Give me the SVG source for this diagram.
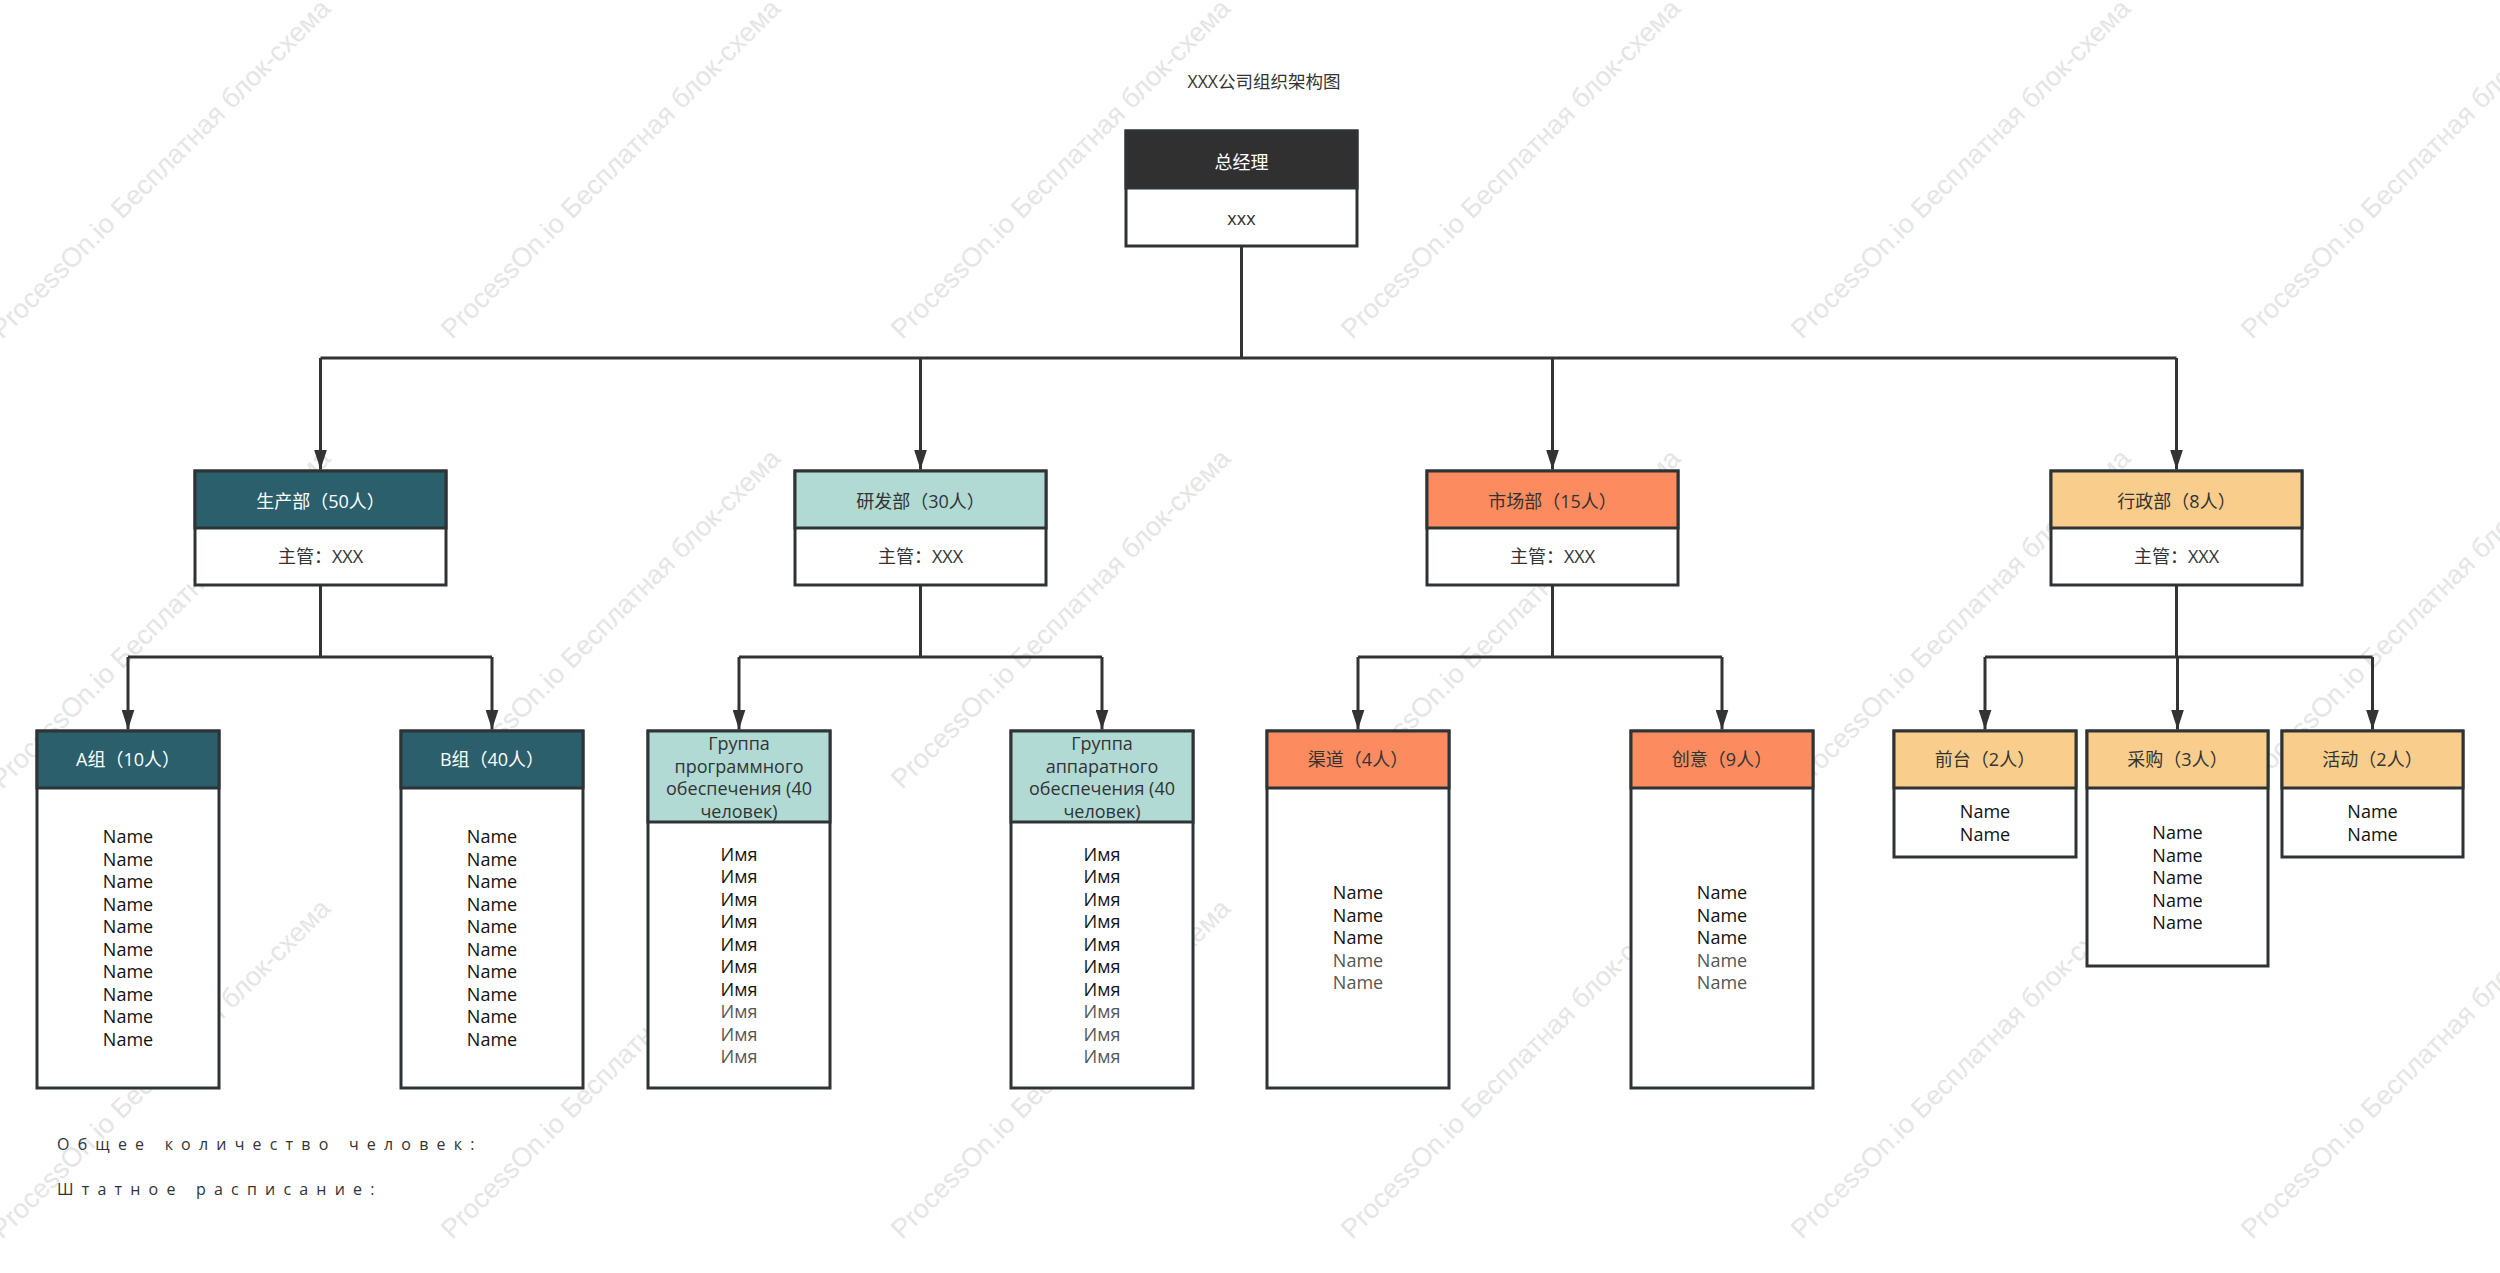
<svg xmlns="http://www.w3.org/2000/svg" width="2500" height="1273" viewBox="0 0 2500 1273">
<defs>
<style>
text{font-family:"Open Sans","Noto Sans CJK SC",sans-serif;font-size:18px;text-anchor:middle}
.wm{font-family:"Liberation Sans","Noto Sans",sans-serif;font-size:27px;fill:#e5e5e5;text-anchor:start}
.box{stroke:#2e3336;stroke-width:3}
.body{fill:#fff}
.hdk{fill:#303030}
.hteal{fill:#2a5f6b}
.hmint{fill:#b0dad3}
.horange{fill:#fc8c5f}
.hyellow{fill:#f9ce8c}
.tw{fill:#ffffff}
.td{fill:#333333}
.nm{fill:#111111}
.nm2{fill:#555555}
.title{font-size:17.5px;fill:#333333}
.foot{font-size:16px;fill:#333333;text-anchor:start;letter-spacing:8.2px}
.conn{fill:none;stroke:#333333;stroke-width:3}
</style>
<marker id="arrow" viewBox="0 0 20 13" refX="20" refY="6.5" markerWidth="20" markerHeight="13" markerUnits="userSpaceOnUse" orient="auto">
<path d="M0,0 L20,6.5 L0,13 z" fill="#333333"/>
</marker>
</defs>
<rect x="0" y="0" width="2500" height="1273" fill="#ffffff"/>
<g id="watermark">
<text class="wm" transform="translate(2,340) rotate(-45)">ProcessOn.io Бесплатная блок-схема</text>
<text class="wm" transform="translate(452,340) rotate(-45)">ProcessOn.io Бесплатная блок-схема</text>
<text class="wm" transform="translate(902,340) rotate(-45)">ProcessOn.io Бесплатная блок-схема</text>
<text class="wm" transform="translate(1352,340) rotate(-45)">ProcessOn.io Бесплатная блок-схема</text>
<text class="wm" transform="translate(1802,340) rotate(-45)">ProcessOn.io Бесплатная блок-схема</text>
<text class="wm" transform="translate(2252,340) rotate(-45)">ProcessOn.io Бесплатная блок-схема</text>
<text class="wm" transform="translate(2,790) rotate(-45)">ProcessOn.io Бесплатная блок-схема</text>
<text class="wm" transform="translate(452,790) rotate(-45)">ProcessOn.io Бесплатная блок-схема</text>
<text class="wm" transform="translate(902,790) rotate(-45)">ProcessOn.io Бесплатная блок-схема</text>
<text class="wm" transform="translate(1352,790) rotate(-45)">ProcessOn.io Бесплатная блок-схема</text>
<text class="wm" transform="translate(1802,790) rotate(-45)">ProcessOn.io Бесплатная блок-схема</text>
<text class="wm" transform="translate(2252,790) rotate(-45)">ProcessOn.io Бесплатная блок-схема</text>
<text class="wm" transform="translate(2,1240) rotate(-45)">ProcessOn.io Бесплатная блок-схема</text>
<text class="wm" transform="translate(452,1240) rotate(-45)">ProcessOn.io Бесплатная блок-схема</text>
<text class="wm" transform="translate(902,1240) rotate(-45)">ProcessOn.io Бесплатная блок-схема</text>
<text class="wm" transform="translate(1352,1240) rotate(-45)">ProcessOn.io Бесплатная блок-схема</text>
<text class="wm" transform="translate(1802,1240) rotate(-45)">ProcessOn.io Бесплатная блок-схема</text>
<text class="wm" transform="translate(2252,1240) rotate(-45)">ProcessOn.io Бесплатная блок-схема</text>
</g>

<text class="title" x="1264" y="88">XXX公司组织架构图</text>

<g id="connectors">
<path class="conn" d="M1241.5 246 V358"/>
<path class="conn" d="M320.5 358 H2176.5"/>
<path class="conn" d="M320.5 358 V469.5" marker-end="url(#arrow)"/>
<path class="conn" d="M920.5 358 V469.5" marker-end="url(#arrow)"/>
<path class="conn" d="M1552.5 358 V469.5" marker-end="url(#arrow)"/>
<path class="conn" d="M2176.5 358 V469.5" marker-end="url(#arrow)"/>

<path class="conn" d="M320.5 585 V657"/>
<path class="conn" d="M128 657 H492"/>
<path class="conn" d="M128 657 V729.5" marker-end="url(#arrow)"/>
<path class="conn" d="M492 657 V729.5" marker-end="url(#arrow)"/>

<path class="conn" d="M920.5 585 V657"/>
<path class="conn" d="M739 657 H1102"/>
<path class="conn" d="M739 657 V729.5" marker-end="url(#arrow)"/>
<path class="conn" d="M1102 657 V729.5" marker-end="url(#arrow)"/>

<path class="conn" d="M1552.5 585 V657"/>
<path class="conn" d="M1358 657 H1722"/>
<path class="conn" d="M1358 657 V729.5" marker-end="url(#arrow)"/>
<path class="conn" d="M1722 657 V729.5" marker-end="url(#arrow)"/>

<path class="conn" d="M2176.5 585 V657"/>
<path class="conn" d="M1985 657 H2372.5"/>
<path class="conn" d="M1985 657 V729.5" marker-end="url(#arrow)"/>
<path class="conn" d="M2177.5 657 V729.5" marker-end="url(#arrow)"/>
<path class="conn" d="M2372.5 657 V729.5" marker-end="url(#arrow)"/>
</g>

<g id="node-ceo">
<rect class="box body" x="1126" y="131" width="231" height="115"/>
<rect class="box hdk" x="1126" y="131" width="231" height="57"/>
<text class="tw" x="1241.5" y="169">总经理</text>
<text class="td" x="1241.5" y="225">xxx</text>
</g>

<g id="node-production">
<rect class="box body" x="195" y="471" width="251" height="114"/>
<rect class="box hteal" x="195" y="471" width="251" height="57"/>
<text class="tw" x="320.5" y="508">生产部（50人）</text>
<text class="td" x="320.5" y="563">主管：XXX</text>
</g>

<g id="node-rd">
<rect class="box body" x="795" y="471" width="251" height="114"/>
<rect class="box hmint" x="795" y="471" width="251" height="57"/>
<text class="td" x="920.5" y="508">研发部（30人）</text>
<text class="td" x="920.5" y="563">主管：XXX</text>
</g>

<g id="node-marketing">
<rect class="box body" x="1427" y="471" width="251" height="114"/>
<rect class="box horange" x="1427" y="471" width="251" height="57"/>
<text class="td" x="1552.5" y="508">市场部（15人）</text>
<text class="td" x="1552.5" y="563">主管：XXX</text>
</g>

<g id="node-admin">
<rect class="box body" x="2051" y="471" width="251" height="114"/>
<rect class="box hyellow" x="2051" y="471" width="251" height="57"/>
<text class="td" x="2176.5" y="508">行政部（8人）</text>
<text class="td" x="2176.5" y="563">主管：XXX</text>
</g>

<g id="node-group-a">
<rect class="box body" x="37" y="731" width="182" height="357"/>
<rect class="box hteal" x="37" y="731" width="182" height="57"/>
<text class="tw" x="128" y="766">A组（10人）</text>
<text class="nm" x="128" y="843">Name</text>
<text class="nm" x="128" y="865.5">Name</text>
<text class="nm" x="128" y="888">Name</text>
<text class="nm" x="128" y="910.5">Name</text>
<text class="nm" x="128" y="933">Name</text>
<text class="nm" x="128" y="955.5">Name</text>
<text class="nm" x="128" y="978">Name</text>
<text class="nm" x="128" y="1000.5">Name</text>
<text class="nm" x="128" y="1023">Name</text>
<text class="nm" x="128" y="1045.5">Name</text>
</g>

<g id="node-group-b">
<rect class="box body" x="401" y="731" width="182" height="357"/>
<rect class="box hteal" x="401" y="731" width="182" height="57"/>
<text class="tw" x="492" y="766">B组（40人）</text>
<text class="nm" x="492" y="843">Name</text>
<text class="nm" x="492" y="865.5">Name</text>
<text class="nm" x="492" y="888">Name</text>
<text class="nm" x="492" y="910.5">Name</text>
<text class="nm" x="492" y="933">Name</text>
<text class="nm" x="492" y="955.5">Name</text>
<text class="nm" x="492" y="978">Name</text>
<text class="nm" x="492" y="1000.5">Name</text>
<text class="nm" x="492" y="1023">Name</text>
<text class="nm" x="492" y="1045.5">Name</text>
</g>

<g id="node-software">
<rect class="box body" x="648" y="731" width="182" height="357"/>
<rect class="box hmint" x="648" y="731" width="182" height="91"/>
<text class="td" x="739" y="750">Группа</text>
<text class="td" x="739" y="772.5">программного</text>
<text class="td" x="739" y="795">обеспечения (40</text>
<text class="td" x="739" y="817.5">человек)</text>
<text class="nm" x="739" y="860.5">Имя</text>
<text class="nm" x="739" y="883">Имя</text>
<text class="nm" x="739" y="905.5">Имя</text>
<text class="nm" x="739" y="928">Имя</text>
<text class="nm" x="739" y="950.5">Имя</text>
<text class="nm" x="739" y="973">Имя</text>
<text class="nm" x="739" y="995.5">Имя</text>
<text class="nm2" x="739" y="1018">Имя</text>
<text class="nm2" x="739" y="1040.5">Имя</text>
<text class="nm2" x="739" y="1063">Имя</text>
</g>

<g id="node-hardware">
<rect class="box body" x="1011" y="731" width="182" height="357"/>
<rect class="box hmint" x="1011" y="731" width="182" height="91"/>
<text class="td" x="1102" y="750">Группа</text>
<text class="td" x="1102" y="772.5">аппаратного</text>
<text class="td" x="1102" y="795">обеспечения (40</text>
<text class="td" x="1102" y="817.5">человек)</text>
<text class="nm" x="1102" y="860.5">Имя</text>
<text class="nm" x="1102" y="883">Имя</text>
<text class="nm" x="1102" y="905.5">Имя</text>
<text class="nm" x="1102" y="928">Имя</text>
<text class="nm" x="1102" y="950.5">Имя</text>
<text class="nm" x="1102" y="973">Имя</text>
<text class="nm" x="1102" y="995.5">Имя</text>
<text class="nm2" x="1102" y="1018">Имя</text>
<text class="nm2" x="1102" y="1040.5">Имя</text>
<text class="nm2" x="1102" y="1063">Имя</text>
</g>

<g id="node-channel">
<rect class="box body" x="1267" y="731" width="182" height="357"/>
<rect class="box horange" x="1267" y="731" width="182" height="57"/>
<text class="td" x="1358" y="766">渠道（4人）</text>
<text class="nm" x="1358" y="899">Name</text>
<text class="nm" x="1358" y="921.5">Name</text>
<text class="nm" x="1358" y="944">Name</text>
<text class="nm2" x="1358" y="966.5">Name</text>
<text class="nm2" x="1358" y="989">Name</text>
</g>

<g id="node-creative">
<rect class="box body" x="1631" y="731" width="182" height="357"/>
<rect class="box horange" x="1631" y="731" width="182" height="57"/>
<text class="td" x="1722" y="766">创意（9人）</text>
<text class="nm" x="1722" y="899">Name</text>
<text class="nm" x="1722" y="921.5">Name</text>
<text class="nm" x="1722" y="944">Name</text>
<text class="nm2" x="1722" y="966.5">Name</text>
<text class="nm2" x="1722" y="989">Name</text>
</g>

<g id="node-reception">
<rect class="box body" x="1894" y="731" width="182" height="126"/>
<rect class="box hyellow" x="1894" y="731" width="182" height="57"/>
<text class="td" x="1985" y="766">前台（2人）</text>
<text class="nm" x="1985" y="818">Name</text>
<text class="nm" x="1985" y="840.5">Name</text>
</g>

<g id="node-purchase">
<rect class="box body" x="2087" y="731" width="181" height="235"/>
<rect class="box hyellow" x="2087" y="731" width="181" height="57"/>
<text class="td" x="2177.5" y="766">采购（3人）</text>
<text class="nm" x="2177.5" y="839">Name</text>
<text class="nm" x="2177.5" y="861.5">Name</text>
<text class="nm" x="2177.5" y="884">Name</text>
<text class="nm" x="2177.5" y="906.5">Name</text>
<text class="nm" x="2177.5" y="929">Name</text>
</g>

<g id="node-events">
<rect class="box body" x="2282" y="731" width="181" height="126"/>
<rect class="box hyellow" x="2282" y="731" width="181" height="57"/>
<text class="td" x="2372.5" y="766">活动（2人）</text>
<text class="nm" x="2372.5" y="818">Name</text>
<text class="nm" x="2372.5" y="840.5">Name</text>
</g>

<text class="foot" x="57" y="1150">Общее количество человек:</text>
<text class="foot" x="57" y="1195">Штатное расписание:</text>
</svg>
